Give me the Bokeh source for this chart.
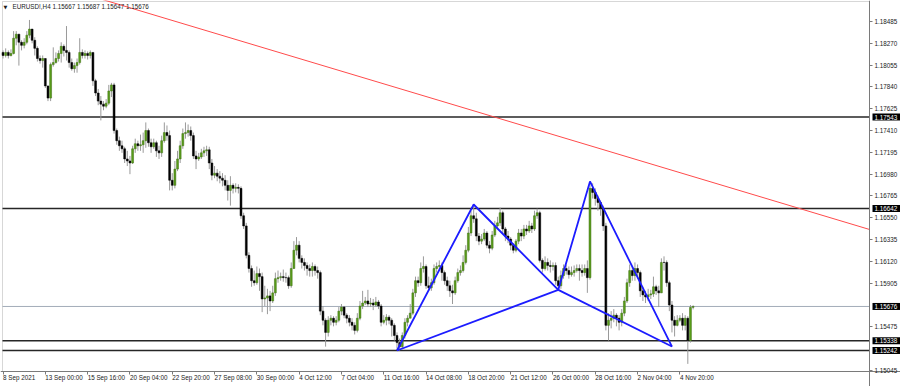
from bokeh.plotting import figure
from bokeh.models import Range1d, FixedTicker, PrintfTickFormatter, Label, BoxAnnotation
from bokeh.embed import file_html
from bokeh.resources import INLINE

symbol = "EURUSD!,H4"
first_open = 1.1818

close = [
    1.1815, 1.1818, 1.1815, 1.1817, 1.1832, 1.1836, 1.1828, 1.1825, 1.1828, 1.1835,
    1.1841, 1.1830, 1.1822, 1.1812, 1.1810, 1.1812, 1.1785, 1.1773, 1.1806, 1.1808,
    1.1812, 1.1817, 1.1824, 1.1820, 1.1818, 1.1808, 1.1802, 1.1805, 1.1808, 1.1818,
    1.1815, 1.1817, 1.1815, 1.1818, 1.1790, 1.1778, 1.1770, 1.1767, 1.1765, 1.1768,
    1.1780, 1.1786, 1.1741, 1.1731, 1.1726, 1.1723, 1.1713, 1.1711, 1.1709, 1.1723,
    1.1728, 1.1726, 1.1727, 1.1731, 1.1741, 1.1729, 1.1725, 1.1729, 1.1721, 1.1719,
    1.1731, 1.1739, 1.1736, 1.1692, 1.1687, 1.1703, 1.1713, 1.1726, 1.1738, 1.1739,
    1.1741, 1.1736, 1.1716, 1.1713, 1.1715, 1.1719, 1.1721, 1.1722, 1.1709, 1.1697,
    1.1699, 1.1696, 1.1694, 1.1692, 1.1687, 1.1682, 1.1687, 1.1684, 1.1685, 1.1684,
    1.1657, 1.1647, 1.1618, 1.1605, 1.1593, 1.1591, 1.1600, 1.1597, 1.1575, 1.1576,
    1.1578, 1.1573, 1.1581, 1.1595, 1.1596, 1.1597, 1.1596, 1.1596, 1.1588, 1.1605,
    1.1623, 1.1628, 1.1615, 1.1611, 1.1608, 1.1605, 1.1603, 1.1607, 1.1603, 1.1601,
    1.1563, 1.1554, 1.1542, 1.1554, 1.1556, 1.1552, 1.1554, 1.1563, 1.1567, 1.1559,
    1.1556, 1.1552, 1.1549, 1.1544, 1.1556, 1.1568, 1.1571, 1.1573, 1.1570, 1.1571,
    1.1569, 1.1572, 1.1568, 1.1552, 1.1554, 1.1557, 1.1554, 1.1549, 1.1539, 1.1532,
    1.1528, 1.1539, 1.1552, 1.1556, 1.1561, 1.1581, 1.1593, 1.1591, 1.1605, 1.1607,
    1.1588, 1.1586, 1.1591, 1.1605, 1.1607, 1.1608, 1.1601, 1.1593, 1.1588, 1.1583,
    1.1581, 1.1593, 1.1601, 1.1603, 1.1611, 1.1623, 1.1640, 1.1657, 1.1654, 1.1637,
    1.1632, 1.1634, 1.1640, 1.1628, 1.1625, 1.1638, 1.1647, 1.1650, 1.1660, 1.1644,
    1.1637, 1.1634, 1.1628, 1.1623, 1.1632, 1.1640, 1.1637, 1.1644, 1.1642, 1.1647,
    1.1644, 1.1657, 1.1660, 1.1613, 1.1605, 1.1611, 1.1608, 1.1607, 1.1608, 1.1593,
    1.1588, 1.1598, 1.1605, 1.1603, 1.1599, 1.1601, 1.1603, 1.1605, 1.1603, 1.1601,
    1.1605, 1.1596, 1.1684, 1.1680, 1.1674, 1.1670, 1.1664, 1.1647, 1.1549, 1.1554,
    1.1556, 1.1559, 1.1556, 1.1552, 1.1561, 1.1573, 1.1591, 1.1603, 1.1598, 1.1605,
    1.1601, 1.1583, 1.1579, 1.1577, 1.1579, 1.1580, 1.1587, 1.1583, 1.1581, 1.1611,
    1.1611, 1.1591, 1.1569, 1.1554, 1.1549, 1.1554, 1.1556, 1.1549, 1.1556, 1.1534,
    1.15667, 1.15676,
]

high = [
    1.1820, 1.1822, 1.1820, 1.1821, 1.1839, 1.1839, 1.1836, 1.1830, 1.1832, 1.1839,
    1.1850, 1.1841, 1.1833, 1.1824, 1.1815, 1.1815, 1.1812, 1.1785, 1.1808, 1.1823,
    1.1818, 1.1820, 1.1828, 1.1826, 1.1844, 1.1820, 1.1812, 1.1808, 1.1812, 1.1832,
    1.1821, 1.1820, 1.1819, 1.1820, 1.1818, 1.1792, 1.1782, 1.1775, 1.1770, 1.1772,
    1.1786, 1.1788, 1.1788, 1.1743, 1.1735, 1.1731, 1.1725, 1.1721, 1.1716, 1.1726,
    1.1733, 1.1731, 1.1737, 1.1739, 1.1749, 1.1743, 1.1733, 1.1733, 1.1731, 1.1726,
    1.1736, 1.1749, 1.1746, 1.1741, 1.1699, 1.1711, 1.1721, 1.1731, 1.1743, 1.1749,
    1.1747, 1.1745, 1.1739, 1.1721, 1.1719, 1.1723, 1.1725, 1.1726, 1.1725, 1.1713,
    1.1706, 1.1703, 1.1701, 1.1699, 1.1697, 1.1692, 1.1696, 1.1689, 1.1689, 1.1688,
    1.1686, 1.1660, 1.1650, 1.1621, 1.1608, 1.1603, 1.1607, 1.1605, 1.1601, 1.1588,
    1.1585, 1.1583, 1.1588, 1.1601, 1.1603, 1.1601, 1.1604, 1.1601, 1.1598, 1.1611,
    1.1632, 1.1636, 1.1632, 1.1618, 1.1615, 1.1611, 1.1609, 1.1611, 1.1609, 1.1607,
    1.1603, 1.1568, 1.1556, 1.1558, 1.1559, 1.1558, 1.1558, 1.1567, 1.1570, 1.1568,
    1.1561, 1.1559, 1.1556, 1.1552, 1.1561, 1.1573, 1.1583, 1.1577, 1.1584, 1.1576,
    1.1575, 1.1577, 1.1574, 1.1570, 1.1559, 1.1560, 1.1559, 1.1556, 1.1551, 1.1542,
    1.1536, 1.1542, 1.1556, 1.1559, 1.1570, 1.1585, 1.1597, 1.1597, 1.1611, 1.1617,
    1.1609, 1.1597, 1.1595, 1.1609, 1.1611, 1.1613, 1.1611, 1.1603, 1.1597, 1.1593,
    1.1589, 1.1597, 1.1605, 1.1608, 1.1618, 1.1628, 1.1646, 1.1662, 1.1668, 1.1660,
    1.1640, 1.1639, 1.1644, 1.1642, 1.1632, 1.1642, 1.1652, 1.1656, 1.1665, 1.1662,
    1.1646, 1.1642, 1.1636, 1.1630, 1.1634, 1.1644, 1.1644, 1.1648, 1.1648, 1.1652,
    1.1650, 1.1662, 1.1664, 1.1662, 1.1615, 1.1617, 1.1615, 1.1613, 1.1611, 1.1611,
    1.1597, 1.1603, 1.1609, 1.1609, 1.1607, 1.1607, 1.1608, 1.1609, 1.1609, 1.1609,
    1.1609, 1.1613, 1.1691, 1.1689, 1.1684, 1.1677, 1.1672, 1.1667, 1.1650, 1.1561,
    1.1563, 1.1565, 1.1561, 1.1559, 1.1565, 1.1577, 1.1595, 1.1609, 1.1607, 1.1611,
    1.1609, 1.1603, 1.1587, 1.1583, 1.1585, 1.1584, 1.1597, 1.1589, 1.1588, 1.1615,
    1.1617, 1.1613, 1.1593, 1.1573, 1.1558, 1.1559, 1.1559, 1.1561, 1.1559, 1.1558,
    1.1569, 1.15687,
]

low = [
    1.1812, 1.1813, 1.1812, 1.1814, 1.1816, 1.1825, 1.1805, 1.1820, 1.1822, 1.1826,
    1.1832, 1.1827, 1.1815, 1.1809, 1.1807, 1.1803, 1.1783, 1.1770, 1.1770, 1.1804,
    1.1807, 1.1809, 1.1808, 1.1814, 1.1810, 1.1803, 1.1800, 1.1798, 1.1798, 1.1806,
    1.1812, 1.1812, 1.1811, 1.1812, 1.1785, 1.1775, 1.1766, 1.1751, 1.1761, 1.1763,
    1.1766, 1.1774, 1.1738, 1.1727, 1.1721, 1.1719, 1.1709, 1.1706, 1.1698, 1.1708,
    1.1719, 1.1721, 1.1721, 1.1719, 1.1724, 1.1725, 1.1719, 1.1723, 1.1715, 1.1713,
    1.1715, 1.1729, 1.1731, 1.1682, 1.1682, 1.1684, 1.1701, 1.1709, 1.1723, 1.1733,
    1.1735, 1.1731, 1.1713, 1.1703, 1.1711, 1.1713, 1.1715, 1.1716, 1.1703, 1.1692,
    1.1694, 1.1691, 1.1689, 1.1686, 1.1682, 1.1672, 1.1667, 1.1679, 1.1680, 1.1679,
    1.1654, 1.1644, 1.1615, 1.1601, 1.1587, 1.1588, 1.1589, 1.1583, 1.1562, 1.1568,
    1.1560, 1.1563, 1.1571, 1.1578, 1.1591, 1.1593, 1.1592, 1.1591, 1.1585, 1.1586,
    1.1605, 1.1618, 1.1611, 1.1605, 1.1603, 1.1598, 1.1597, 1.1597, 1.1598, 1.1595,
    1.1559, 1.1549, 1.1528, 1.1538, 1.1549, 1.1548, 1.1549, 1.1552, 1.1559, 1.1556,
    1.1551, 1.1548, 1.1544, 1.1540, 1.1542, 1.1554, 1.1565, 1.1569, 1.1567, 1.1567,
    1.1564, 1.1567, 1.1565, 1.1548, 1.1550, 1.1549, 1.1550, 1.1538, 1.1534, 1.1526,
    1.15242, 1.1526, 1.1536, 1.1548, 1.1556, 1.1559, 1.1577, 1.1587, 1.1588, 1.1601,
    1.1585, 1.1583, 1.1583, 1.1589, 1.1601, 1.1603, 1.1593, 1.1589, 1.1583, 1.1577,
    1.1570, 1.1579, 1.1591, 1.1598, 1.1601, 1.1609, 1.1621, 1.1637, 1.1650, 1.1632,
    1.1628, 1.1629, 1.1632, 1.1625, 1.1620, 1.1623, 1.1636, 1.1644, 1.1647, 1.1640,
    1.1632, 1.1630, 1.1623, 1.1620, 1.1621, 1.1629, 1.1632, 1.1634, 1.1638, 1.1640,
    1.1640, 1.1642, 1.1654, 1.1611, 1.1601, 1.1603, 1.1603, 1.1601, 1.1603, 1.1589,
    1.1583, 1.1585, 1.1595, 1.1599, 1.1595, 1.1597, 1.1597, 1.1601, 1.1593, 1.1597,
    1.1598, 1.1581, 1.1594, 1.1674, 1.1667, 1.1662, 1.1657, 1.1642, 1.1544, 1.1534,
    1.1546, 1.1552, 1.1548, 1.1544, 1.1548, 1.1558, 1.1571, 1.1587, 1.1593, 1.1593,
    1.1595, 1.1577, 1.1573, 1.1571, 1.1573, 1.1575, 1.1577, 1.1579, 1.1567, 1.1581,
    1.1603, 1.1587, 1.1563, 1.1542, 1.1538, 1.1548, 1.1552, 1.1544, 1.1544, 1.1511,
    1.1532, 1.15647,
]

tick_bars = [0, 16, 32, 48, 64, 80, 96, 112, 128, 144, 160, 176, 192, 208, 224, 240, 256]
tick_dates = ["8 Sep 2021", "13 Sep 00:00", "15 Sep 16:00", "20 Sep 04:00", "22 Sep 20:00",
              "27 Sep 08:00", "30 Sep 00:00", "4 Oct 12:00", "7 Oct 04:00", "11 Oct 16:00",
              "14 Oct 08:00", "18 Oct 20:00", "21 Oct 12:00", "26 Oct 00:00", "28 Oct 16:00",
              "2 Nov 04:00", "4 Nov 20:00"]
price_ticks = [1.18485, 1.18270, 1.18055, 1.17840, 1.17625, 1.17410, 1.17195, 1.16980,
               1.16765, 1.16550, 1.16335, 1.16120, 1.15905, 1.15475, 1.15045]

levels = [1.17543, 1.16642, 1.15338, 1.15242]
trend_bars = [30, 327.7]
trend_prices = [1.18761, 1.16435]
pattern_bars = [149, 178, 210, 222, 253]          # X, A, B, C, D
pattern_prices = [1.15242, 1.16681, 1.15840, 1.16908, 1.15281]

n = len(close)
bars = list(range(n))
opens = [first_open] + close[:-1]
body_top = [max(o, c) for o, c in zip(opens, close)]
body_bot = [min(o, c) for o, c in zip(opens, close)]
fills = ["#5a9e1a" if c > o else "#000000" for o, c in zip(opens, close)]
lines = ["#3c6e10" if c > o else "#000000" for o, c in zip(opens, close)]

# ---- layout geometry (chart-area in pixels -> data ranges) ----
FONT = "Liberation Sans"
FS = "6.3px"
FRAME = "#7a7a7a"
BAR_PX = 2.644           # pixels per bar
PRICE_PX = 0.00009857    # price per pixel
X_START = -0.2           # bar at the chart-area left edge (pixel 2)
X_AXIS = X_START + 867 / BAR_PX          # price-scale line (pixel 869)
Y_TOP = 1.18682                          # price at chart-area top (pixel 1)
Y_AXIS = Y_TOP - 370 * PRICE_PX          # time-scale line (pixel 371)
x_lo, x_hi = X_START - 2 / BAR_PX, X_START + 898 / BAR_PX
y_lo, y_hi = Y_TOP - 385 * PRICE_PX, Y_TOP + 1 * PRICE_PX

p = figure(width=900, height=386, output_backend="svg", toolbar_location=None,
           x_range=Range1d(x_lo, x_hi), y_range=Range1d(y_lo, y_hi),
           y_axis_location="right", min_border_left=0, min_border_right=0,
           min_border_top=0, min_border_bottom=0, background_fill_color="white",
           border_fill_color="white")
p.xgrid.visible = False
p.ygrid.visible = False
p.outline_line_color = None

ya = p.yaxis[0]
ya.fixed_location = X_AXIS
ya.ticker = FixedTicker(ticks=price_ticks)
ya.formatter = PrintfTickFormatter(format="%.5f")
ya.major_label_text_font = FONT
ya.major_label_text_font_size = FS
ya.major_label_text_color = "#1a1a1a"
ya.major_tick_out = 3
ya.major_tick_in = 0
ya.minor_tick_out = 0
ya.minor_tick_in = 0
ya.major_label_standoff = 2
ya.axis_line_color = FRAME
ya.major_tick_line_color = FRAME

xa = p.xaxis[0]
xa.fixed_location = Y_AXIS
xa.ticker = FixedTicker(ticks=tick_bars)
xa.major_label_overrides = {b: s for b, s in zip(tick_bars, tick_dates)}
xa.major_label_orientation = -1e-7      # tiny negative angle -> labels start at the tick
xa.major_label_text_font = FONT
xa.major_label_text_font_size = FS
xa.major_label_text_color = "#1a1a1a"
xa.major_tick_out = 3
xa.major_tick_in = 0
xa.minor_tick_out = 0
xa.minor_tick_in = 0
xa.major_label_standoff = 3
xa.axis_line_color = FRAME
xa.major_tick_line_color = FRAME

# chart-area border
p.add_layout(BoxAnnotation(left=X_START, right=X_AXIS, bottom=Y_AXIS, top=Y_TOP,
                           fill_alpha=0, line_color=FRAME, line_width=1, level="underlay"))

# horizontal levels and the current-price line
p.segment(x0=[X_START] * len(levels), x1=[X_AXIS] * len(levels), y0=levels, y1=levels,
          line_color="#262626", line_width=1.6)
p.segment(x0=[X_START], x1=[X_AXIS], y0=[close[-1]], y1=[close[-1]],
          line_color="#a2acb8", line_width=1)

# candles
p.segment(x0=bars, y0=low, x1=bars, y1=high, line_color="#9a9a9a", line_width=1)
p.vbar(x=bars, width=0.72, top=body_top, bottom=body_bot, fill_color=fills,
       line_color=lines, line_width=0.5)

# trend line
p.line(trend_bars, trend_prices, line_color="#ff4b4b", line_width=1)

# harmonic pattern
xs = [pattern_bars,
      [pattern_bars[0], pattern_bars[2]],
      [pattern_bars[2], pattern_bars[4]]]
ys = [pattern_prices,
      [pattern_prices[0], pattern_prices[2]],
      [pattern_prices[2], pattern_prices[4]]]
p.multi_line(xs, ys, line_color="#1c1cff", line_width=1.8)

# price tags on the price scale
def make_tag(lv):
    kw = dict(x=X_AXIS + 3 / BAR_PX, y=lv, text=f"{lv:.5f}", text_color="white",
              background_fill_color="black", text_font=FONT, text_font_size=FS,
              text_baseline="middle", text_align="left")
    try:
        return Label(padding=dict(left=2, right=3, top=1, bottom=1), **kw)
    except Exception:
        return Label(padding=1, **kw)

for lv in levels + [close[-1]]:
    p.add_layout(make_tag(lv))

# header
p.add_layout(Label(x=3, x_units="screen", y=380, y_units="screen", text="\u25bc",
                   text_font="DejaVu Sans", text_font_size="5px", text_color="#1a1a1a",
                   text_baseline="middle"))
p.add_layout(Label(x=12, x_units="screen", y=380, y_units="screen",
                   text=f"{symbol}  {opens[-1]:.5f} {high[-1]:.5f} {low[-1]:.5f} {close[-1]:.5f}",
                   text_font=FONT, text_font_size=FS, text_color="#1a1a1a",
                   text_baseline="middle"))

open("out.html", "w").write(file_html(p, INLINE))
